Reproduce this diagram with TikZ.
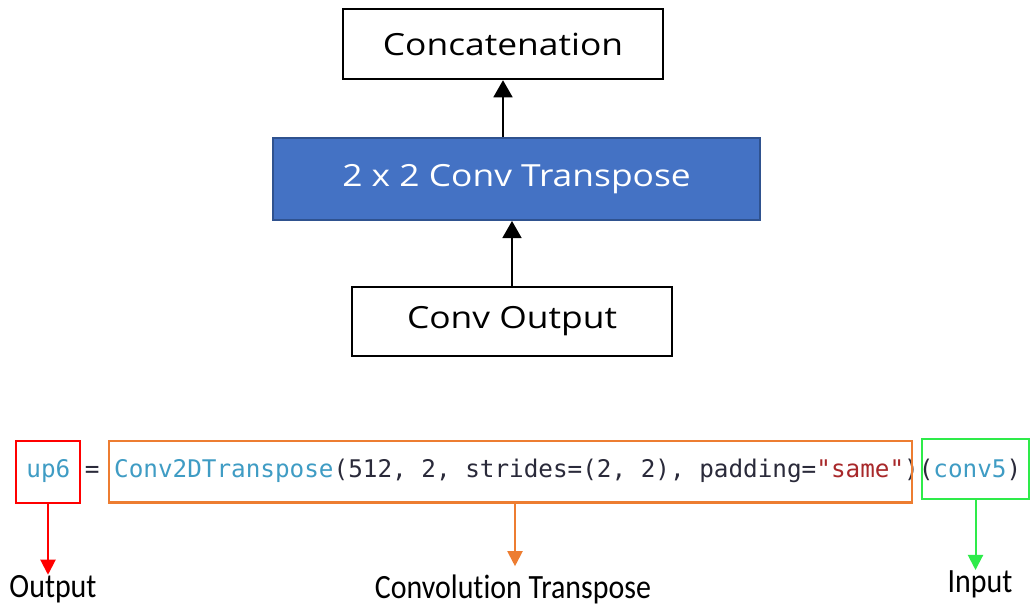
\documentclass[tikz,border=0pt]{standalone}
\usepackage{fontspec}
\usetikzlibrary{arrows.meta,calc}
\newfontfamily\boxfont{Open Sans}[FakeStretch=1.16]
\newfontfamily\lblfont{Carlito}[FakeStretch=0.88,Ligatures=NoCommon]
\setmonofont{DejaVu Sans Mono}
\definecolor{boxblue}{HTML}{4472C4}
\definecolor{boxblueedge}{HTML}{2F528F}
\definecolor{codeteal}{HTML}{3F9CC4}
\definecolor{codedark}{HTML}{2A2A3A}
\definecolor{codestr}{HTML}{A8282A}
\definecolor{outred}{HTML}{FF0000}
\definecolor{convorange}{HTML}{ED7D31}
\definecolor{ingreen}{HTML}{2EEB4A}
\tikzset{
  flowbox/.style={draw=black, line width=2.5pt, rectangle, inner sep=0pt,
    font=\boxfont\fontsize{30.5}{36}\selectfont},
  codebox/.style={rectangle, line width=2.6pt, inner sep=0pt},
  blackarrow/.style={draw=black, line width=1.6pt, -{Triangle[width=19pt,length=17pt]}},
  codearrow/.style={line width=2pt, -{Triangle[width=15pt,length=15pt]}},
  lbl/.style={inner sep=0pt, anchor=base, font=\lblfont\fontsize{34}{40}\selectfont, text=black}
}
\newcommand{\codesetup}{\ttfamily\fontsize{24.3}{30}\selectfont\spaceskip=\fontcharwd\font`\a\relax\xspaceskip=\spaceskip}
\begin{document}
\begin{tikzpicture}[x=1pt, y=-1pt]
\path[use as bounding box, fill=white] (0,0) rectangle (1030,608);

% flow boxes
\node[flowbox, minimum width=320pt, minimum height=70pt] (concat) at (503,44) {Concatenation};
\node[flowbox, draw=boxblueedge, line width=2pt, fill=boxblue, text=white,
      minimum width=487pt, minimum height=82pt] (convt) at (516.5,179) {2 x 2 Conv Transpose};
\node[flowbox, minimum width=320pt, minimum height=69pt] (convout) at (512,321.5) {Conv Output};

\draw[blackarrow] (convt.north -| concat.south) -- (concat.south);
\draw[blackarrow] (convout.north) -- (convout.north |- convt.south);

% code line
\node[anchor=base west, inner sep=0pt, text=codedark, font=\codesetup] (code) at (26.2,477)
  {\textcolor{codeteal}{up6} = \textcolor{codeteal}{Conv2DTranspose}(512, 2, strides=(2, 2), padding=\textcolor{codestr}{"same"})(\textcolor{codeteal}{conv5})};

\node[codebox, draw=outred, minimum width=64pt, minimum height=62pt] (outbox) at (48,472) {};
\node[codebox, draw=convorange, minimum width=803pt, minimum height=61.5pt] (convbox) at (510.5,471.75) {};
\node[codebox, draw=ingreen, minimum width=107pt, minimum height=60pt] (inbox) at (975.5,469) {};

% labels
\node[lbl] (outlbl) at (53,597) {Output};
\node[lbl] (convlbl) at (513,598) {Convolution Transpose};
\node[lbl] (inlbl) at (980,592) {Input};

\draw[codearrow, draw=outred, fill=outred] (outbox.south) -- (outbox.south |- outlbl.north);
\draw[codearrow, draw=convorange, fill=convorange] (convbox.south -| 515,0) -- ($(515,0 |- convlbl.north)+(0,8pt)$);
\draw[codearrow, draw=ingreen, fill=ingreen] (inbox.south) -- (inbox.south |- inlbl.north);
\end{tikzpicture}
\end{document}
